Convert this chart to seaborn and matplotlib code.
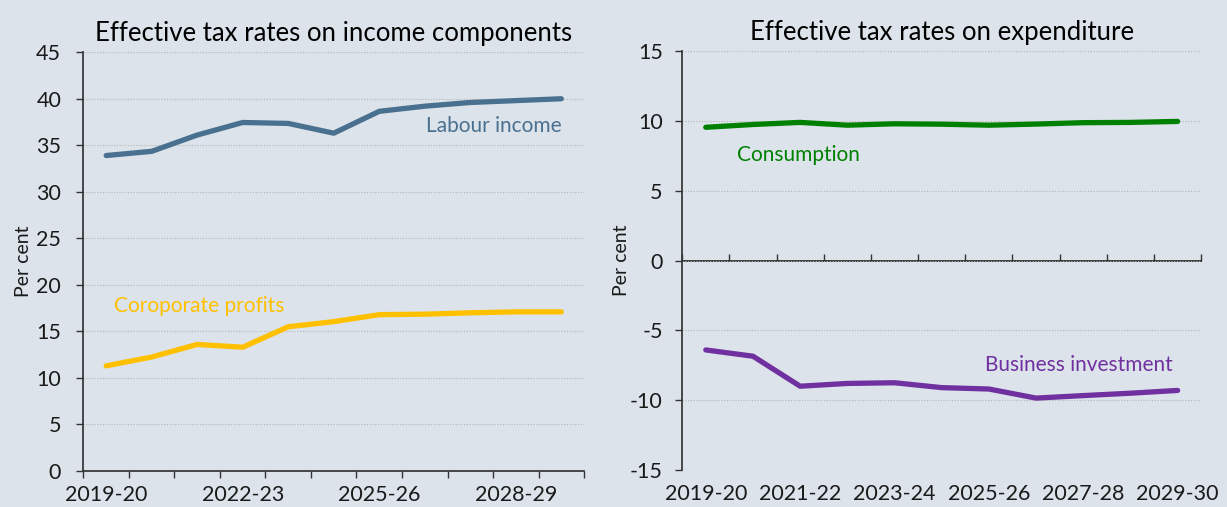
import numpy as np
import pandas as pd
import matplotlib.pyplot as plt
import seaborn as sns

years = ["2019-20", "2020-21", "2021-22", "2022-23", "2023-24", "2024-25",
         "2025-26", "2026-27", "2027-28", "2028-29", "2029-30"]
labour = [33.9, 34.35, 36.1, 37.45, 37.35, 36.3, 38.65, 39.2, 39.6, 39.8, 40.0]
corporate = [11.3, 12.25, 13.6, 13.3, 15.5, 16.05, 16.8, 16.85, 17.0, 17.1, 17.1]
consumption = [9.55, 9.75, 9.9, 9.7, 9.8, 9.77, 9.7, 9.78, 9.88, 9.9, 9.97]
business = [-6.4, -6.85, -9.0, -8.8, -8.75, -9.1, -9.2, -9.85, -9.67, -9.5, -9.3]

bg = "#dce3ea"
c_labour = "#4a7090"
c_corp = "#ffc000"
c_cons = "#008000"
c_bus = "#7030a0"
dark = "#1a1a1a"

sns.set_theme(style="ticks")
plt.rcParams["font.family"] = ["Lato", "DejaVu Sans"]
plt.rcParams["axes.unicode_minus"] = False

df = pd.DataFrame({"year": years, "labour": labour, "corporate": corporate,
                   "consumption": consumption, "business": business})

fig = plt.figure(figsize=(12.27, 5.07), dpi=100, facecolor=bg)
ax1 = fig.add_axes([0.068, 0.071, 0.408, 0.826])
ax2 = fig.add_axes([0.556, 0.073, 0.423, 0.826])

bounds = np.arange(-0.5, len(years), 1)

for ax in (ax1, ax2):
    ax.set_facecolor(bg)
    for s in ("top", "right"):
        ax.spines[s].set_visible(False)
    ax.spines["left"].set_color("#333333")
    ax.spines["bottom"].set_color("#333333")
    ax.yaxis.grid(True, ls=(0, (1, 1.5)), color="#b5b5b5", lw=0.8)
    ax.set_axisbelow(True)
    ax.tick_params(axis="y", labelsize=15.5, colors=dark, length=5, width=1, color="#333333")
ax1.tick_params(axis="y", pad=11)
ax2.tick_params(axis="y", pad=9)

# left panel
sns.lineplot(data=df, x="year", y="labour", ax=ax1, color=c_labour, lw=3.8,
             solid_capstyle="round", sort=False)
sns.lineplot(data=df, x="year", y="corporate", ax=ax1, color=c_corp, lw=3.8,
             solid_capstyle="round", sort=False)
ax1.set_ylim(0, 45)
ax1.set_yticks(range(0, 46, 5))
ax1.set_xlim(-0.5, len(years) - 0.5)
ax1.set_xticks(bounds, labels=[""] * len(bounds))
ax1.set_xticks([0, 3, 6, 9], labels=[years[i] for i in (0, 3, 6, 9)], minor=True)
ax1.tick_params(axis="x", which="major", length=5, width=1, color="#333333")
ax1.tick_params(axis="x", which="minor", length=0, labelsize=15.5, colors=dark, pad=10)
ax1.set_xlabel("")
ax1.set_ylabel("Per cent", fontsize=14, color=dark, labelpad=3)
ax1.set_title("Effective tax rates on income components", fontsize=18.5, color="black", pad=8)
ax1.text(10, 37.1, "Labour income", color=c_labour, fontsize=15, ha="right", va="center")
ax1.text(0.18, 17.7, "Coroporate profits", color=c_corp, fontsize=15, ha="left", va="center")

# right panel
sns.lineplot(data=df, x="year", y="consumption", ax=ax2, color=c_cons, lw=3.8,
             solid_capstyle="round", sort=False)
sns.lineplot(data=df, x="year", y="business", ax=ax2, color=c_bus, lw=3.8,
             solid_capstyle="round", sort=False)
ax2.set_ylim(-15, 15)
ax2.set_yticks(range(-15, 16, 5))
ax2.set_xlim(-0.5, len(years) - 0.5)
ax2.spines["bottom"].set_visible(False)
ax2.set_xticks([])
ax2.set_xticks(range(0, 11, 2), labels=[years[i] for i in range(0, 11, 2)], minor=True)
ax2.tick_params(axis="x", which="minor", length=0, labelsize=15.5, colors=dark, pad=10)
sec = ax2.secondary_xaxis(0.5)
sec.set_xticks(bounds, labels=[""] * len(bounds))
sec.tick_params(axis="x", length=5, width=1, color="#333333")
sec.spines["bottom"].set_color("#333333")
ax2.set_xlabel("")
ax2.set_ylabel("Per cent", fontsize=14, color=dark, labelpad=0)
ax2.set_title("Effective tax rates on expenditure", fontsize=18.5, color="black", pad=8)
ax2.text(0.66, 7.6, "Consumption", color=c_cons, fontsize=15, ha="left", va="center")
ax2.text(9.9, -7.5, "Business investment", color=c_bus, fontsize=15, ha="right", va="center")

fig.savefig("out.png", dpi=100, facecolor=bg)
